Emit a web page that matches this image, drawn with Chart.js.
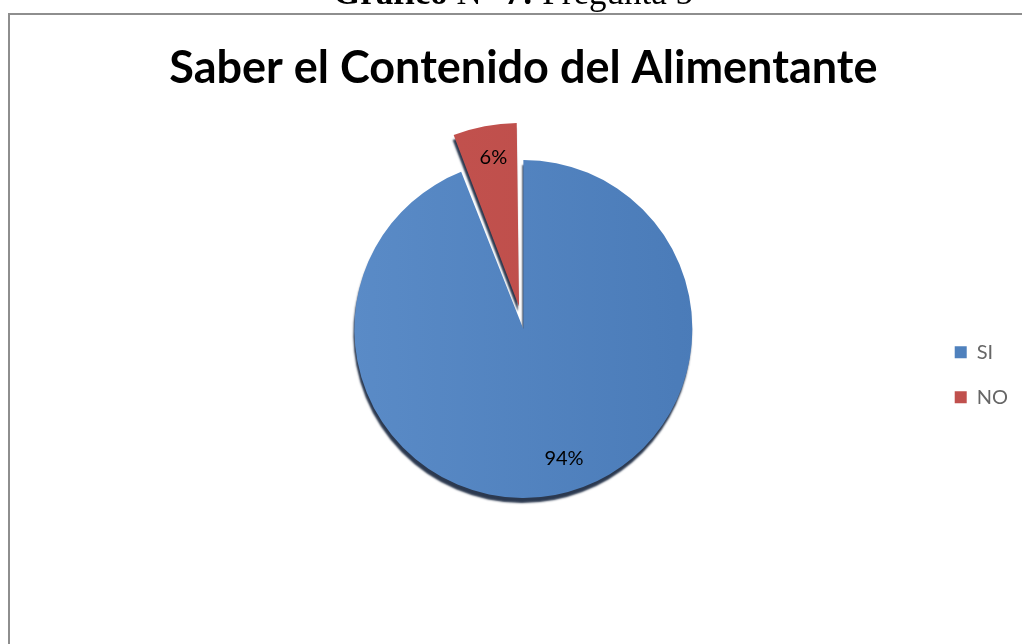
<!DOCTYPE html>
<html>
<head>
<meta charset="utf-8">
<script src="https://cdn.jsdelivr.net/npm/chart.js@4.4.1/dist/chart.umd.min.js"></script>
<style>
html, body { margin: 0; padding: 0; background: #fff; }
#wrap { position: relative; width: 1022px; height: 644px; overflow: hidden; }
#frame { position: absolute; left: 8px; top: 13px; width: 1100px; height: 700px;
	border-top: 2px solid #8e8e8e; border-left: 2px solid #8e8e8e; box-sizing: border-box; }
canvas { position: absolute; left: 0; top: 0; }
</style>
</head>
<body>
<div id="wrap">
	<div id="frame"></div>
	<canvas id="Pie-Chart" width="1022" height="644"></canvas>
</div>
<script>
//-------------------------------------------------- Data
const labels = ["SI", "NO"];
const values = [94, 6];
const percentLabels = ["94%", "6%"];
const explode = [0, 92]; // Chart.js v4 moves an arc by offset / 4
const chartTitle = "Saber el Contenido del Alimentante";
//^^^^^^^^^^^^^^^^^^^^^^^^^^^^^^^^^^^^^^^^^^^^^^^^^^ Data

//-------------------------------------------------- Plugins
const captionPlugin = {
	id: "caption",
	beforeDraw(chart) {
		const ctx = chart.ctx;
		ctx.save();
		ctx.beginPath();
		ctx.rect(0, 0, chart.width, 13);
		ctx.clip();
		ctx.fillStyle = "#000";
		ctx.textBaseline = "alphabetic";
		const parts = [
			["bold 35px 'Liberation Serif'", "Gráfico "],
			["35px 'Liberation Serif'", "N° "],
			["bold 35px 'Liberation Serif'", "7: "],
			["35px 'Liberation Serif'", "Pregunta 5"]
		];
		let x = 333;
		parts.forEach(p => {
			ctx.font = p[0];
			ctx.fillText(p[1], x, 4);
			x += ctx.measureText(p[1]).width;
		});
		ctx.restore();
	}
};

const shadowPlugin = {
	id: "pieShadow",
	beforeDatasetsDraw(chart) {
		const ctx = chart.ctx;
		ctx.save();
		ctx.shadowColor = "rgba(20,35,60,0.9)";
		ctx.shadowBlur = 2;
		ctx.shadowOffsetX = -1;
		ctx.shadowOffsetY = 5;
	},
	afterDatasetsDraw(chart) {
		chart.ctx.restore();
		const ctx = chart.ctx;
		const meta = chart.getDatasetMeta(0);
		ctx.save();
		ctx.font = "20px Lato";
		ctx.fillStyle = "#000";
		ctx.textAlign = "center";
		ctx.textBaseline = "middle";
		const nudge = [[15, -5], [0, -14]];
		meta.data.forEach((arc, i) => {
			const p = arc.getProps(["x", "y", "startAngle", "endAngle", "outerRadius"], true);
			const mid = (p.startAngle + p.endAngle) / 2;
			const d = (arc.options.offset || 0) / 4 + p.outerRadius * 0.81;
			ctx.fillText(percentLabels[i], p.x + Math.cos(mid) * d + nudge[i][0], p.y + Math.sin(mid) * d + nudge[i][1]);
		});
		ctx.restore();
	}
};
//^^^^^^^^^^^^^^^^^^^^^^^^^^^^^^^^^^^^^^^^^^^^^^^^^^ Plugins

function sliceFill(ctx) {
	const g = ctx.chart.ctx.createLinearGradient(350, 0, 700, 0);
	if (ctx.dataIndex == 0) {
		g.addColorStop(0, "#5a8bc7");
		g.addColorStop(1, "#4a7bb8");
	} else {
		g.addColorStop(0, "#c4534f");
		g.addColorStop(1, "#bb4c49");
	}
	return g;
}

new Chart(document.getElementById("Pie-Chart").getContext("2d"), {
	type: "pie",
	data: {
		labels: labels,
		datasets: [{
			data: values,
			backgroundColor: sliceFill,
			borderWidth: 0,
			offset: explode,
			radius: 169
		}]
	},
	options: {
		responsive: false,
		animation: false,
		layout: { padding: { left: 117, right: 4, top: 0, bottom: 96 } },
		plugins: {
			title: {
				display: true,
				fullSize: false,
				text: chartTitle,
				color: "#000",
				font: { family: "Lato", size: 45, weight: "bold", lineHeight: 1.2 },
				padding: { top: 41, bottom: 15 }
			},
			legend: {
				position: "right",
				fullSize: false,
				title: { display: true, text: " ", font: { size: 12 }, padding: { top: 77, bottom: 0 } },
				labels: {
					boxWidth: 12,
					boxHeight: 12,
					padding: 25,
					color: "#000",
					font: { family: "Lato", size: 20 },
					generateLabels(chart) {
						return labels.map((l, i) => ({
							text: l,
							fillStyle: i == 0 ? "#4f81bd" : "#c0504d",
							strokeStyle: "transparent",
							lineWidth: 0,
							index: i
						}));
					}
				}
			},
			tooltip: { enabled: false }
		}
	},
	plugins: [captionPlugin, shadowPlugin]
});
</script>
</body>
</html>
